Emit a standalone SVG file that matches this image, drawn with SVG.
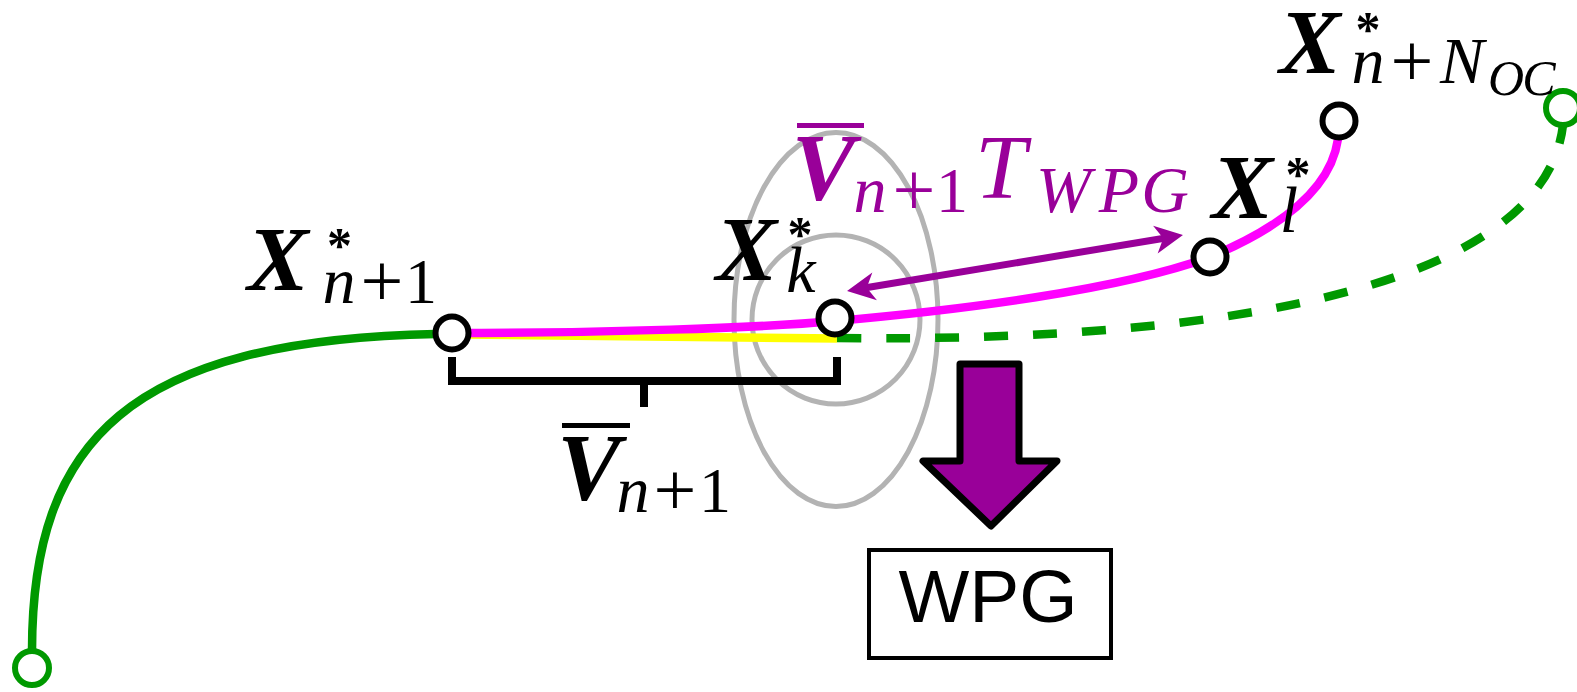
<svg xmlns="http://www.w3.org/2000/svg" width="1577" height="692" viewBox="0 0 1577 692">
<style>
text { text-anchor: middle; font-family: "Liberation Serif", "DejaVu Serif", serif; }
.bx { font-weight: bold; font-style: italic; font-size: 92px; }
.bv { font-weight: bold; font-style: italic; font-size: 95px; }
.it { font-style: italic; font-size: 66px; }
.sm { font-style: italic; font-size: 50px; }
.rm { font-size: 64px; }
.pl { font-size: 76px; }
.st { font-size: 50px; font-weight: bold; }
.purple text { fill: #990099; }
.node { fill: #ffffff; stroke: #000000; stroke-width: 6; }
.gnode { fill: #ffffff; stroke: #009900; stroke-width: 6; }
.gray { fill: none; stroke: #b3b3b3; stroke-width: 5; }
.bar { stroke-width: 5; }
</style>
<defs>
<marker id="ah" markerUnits="userSpaceOnUse" viewBox="-14 -16 32 32" refX="0" refY="0" markerWidth="32" markerHeight="32" orient="auto-start-reverse">
<path d="M16,0 L-12,-14 L-4,0 L-12,14 Z" fill="#990099"/>
</marker>
</defs>
<rect width="1577" height="692" fill="#ffffff"/>
<g id="region-ellipses">
<ellipse class="gray" cx="836" cy="319.5" rx="102" ry="187"/>
<ellipse class="gray" cx="836" cy="319.5" rx="84" ry="84.5"/>
</g>
<g id="connectors" fill="none">
<path d="M32 651 C32 440 130 340 436 334" stroke="#009900" stroke-width="8.5"/>
<path d="M452 334.5 C600 335.5 750 337.5 837 338.5" stroke="#ffff00" stroke-width="8.5"/>
<path d="M837 338 C1250 343 1545 280 1563 125" stroke="#009900" stroke-width="8.5" stroke-dasharray="24 25"/>
<path d="M452 333 C600 333 760 328 835 321 C960 310 1120 290 1210 257 C1270 232 1330 195 1338 139" stroke="#ff00ff" stroke-width="8.5"/>
<path d="M862.8 288.3 L1167.2 237.7" stroke="#990099" stroke-width="7" marker-start="url(#ah)" marker-end="url(#ah)"/>
<path d="M452 357 V381 H837 V357 M644 381 V407" stroke="#000000" stroke-width="8"/>
</g>
<g id="node-start"><circle class="gnode" cx="32" cy="668" r="17"/></g>
<g id="node-end"><circle class="gnode" cx="1563" cy="108" r="17"/></g>
<g id="node-xn1"><circle class="node" cx="452" cy="333" r="16.5"/></g>
<g id="node-xk"><circle class="node" cx="835" cy="318" r="16.5"/></g>
<g id="node-xl"><circle class="node" cx="1210" cy="257" r="16.5"/></g>
<g id="node-xnoc"><circle class="node" cx="1339" cy="121" r="16.5"/></g>
<g id="wpg-arrow">
<path d="M960 364 L1019 364 L1019 461 L1057 461 L991 526 L923 461 L960 461 Z" fill="#990099" stroke="#000000" stroke-width="7" stroke-linejoin="round"/>
</g>
<g id="node-wpg">
<rect x="869" y="550" width="242" height="108" fill="#ffffff" stroke="#000000" stroke-width="4"/>
<text x="988" y="622" style="font-family: 'Liberation Sans', Arial, sans-serif; font-size: 75px;">WPG</text>
</g>
<g id="label-xn1">
<text class="bx" x="278" y="290">X</text>
<text class="st" x="339.5" y="262">*</text>
<text class="it" x="339" y="303">n</text>
<text class="pl" x="382" y="306">+</text>
<text class="rm" x="421" y="303">1</text>
</g>
<g id="label-xk">
<text class="bx" x="746.5" y="280">X</text>
<text class="st" x="800" y="251">*</text>
<text class="it" x="801" y="292">k</text>
</g>
<g id="label-xl">
<text class="bx" x="1242.5" y="218">X</text>
<text class="st" x="1298" y="191">*</text>
<text class="it" x="1289" y="232">l</text>
</g>
<g id="label-xnoc">
<text class="bx" x="1310" y="73">X</text>
<text class="st" x="1368" y="46">*</text>
<text class="it" x="1368" y="83">n</text>
<text class="pl" x="1412" y="86">+</text>
<text class="it" x="1462" y="83">N</text>
<text class="sm" x="1506" y="95">O</text>
<text class="sm" x="1539" y="95">C</text>
</g>
<g id="label-vt" class="purple">
<line class="bar" x1="797" y1="125.5" x2="864" y2="125.5" stroke="#990099"/>
<text class="bv" x="823.5" y="200">V</text>
<text class="it" x="870" y="212">n</text>
<text class="pl" x="914" y="215">+</text>
<text class="rm" x="952" y="212">1</text>
<text class="it" x="1000.5" y="198" style="font-size: 92px;">T</text>
<text class="it" x="1063.5" y="212">W</text>
<text class="it" x="1119" y="212">P</text>
<text class="it" x="1165" y="212">G</text>
</g>
<g id="label-v">
<line class="bar" x1="562" y1="425.5" x2="630" y2="425.5" stroke="#000000"/>
<text class="bv" x="589" y="500">V</text>
<text class="it" x="633" y="512">n</text>
<text class="pl" x="675" y="515">+</text>
<text class="rm" x="715" y="512">1</text>
</g>
</svg>
